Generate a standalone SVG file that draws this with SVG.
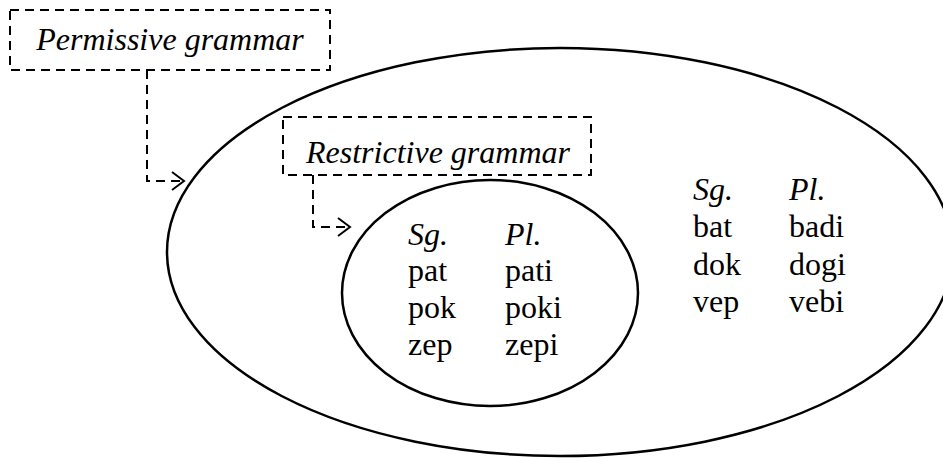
<svg xmlns="http://www.w3.org/2000/svg" width="943" height="458" viewBox="0 0 943 458">
<style>
.box{fill:none;stroke:#000;stroke-width:2;stroke-dasharray:9,6}
.ell{fill:none;stroke:#000;stroke-width:2.5}
.con{fill:none;stroke:#000;stroke-width:2;stroke-dasharray:9,6}
.ah{fill:none;stroke:#000;stroke-width:2}
</style>
<rect width="943" height="458" fill="#fff"/>
<g id="outer">
<ellipse class="ell" cx="560" cy="252" rx="393" ry="204"/>
<text x="693" y="200" style="font-family:'Liberation Serif',serif;font-size:32px;font-style:italic">Sg.</text>
<text x="789" y="200" style="font-family:'Liberation Serif',serif;font-size:32px;font-style:italic">Pl.</text>
<text x="693" y="237" style="font-family:'Liberation Serif',serif;font-size:32px">bat</text>
<text x="789" y="237" style="font-family:'Liberation Serif',serif;font-size:32px">badi</text>
<text x="693" y="275" style="font-family:'Liberation Serif',serif;font-size:32px">dok</text>
<text x="789" y="275" style="font-family:'Liberation Serif',serif;font-size:32px">dogi</text>
<text x="693" y="312" style="font-family:'Liberation Serif',serif;font-size:32px">vep</text>
<text x="789" y="312" style="font-family:'Liberation Serif',serif;font-size:32px">vebi</text>
</g>
<g id="inner">
<ellipse class="ell" cx="490" cy="293" rx="148" ry="113"/>
<text x="408" y="245" style="font-family:'Liberation Serif',serif;font-size:32px;font-style:italic">Sg.</text>
<text x="505" y="245" style="font-family:'Liberation Serif',serif;font-size:32px;font-style:italic">Pl.</text>
<text x="408" y="281" style="font-family:'Liberation Serif',serif;font-size:32px">pat</text>
<text x="505" y="281" style="font-family:'Liberation Serif',serif;font-size:32px">pati</text>
<text x="408" y="318" style="font-family:'Liberation Serif',serif;font-size:32px">pok</text>
<text x="505" y="318" style="font-family:'Liberation Serif',serif;font-size:32px">poki</text>
<text x="408" y="355" style="font-family:'Liberation Serif',serif;font-size:32px">zep</text>
<text x="505" y="355" style="font-family:'Liberation Serif',serif;font-size:32px">zepi</text>
</g>
<g id="permissive">
<rect class="box" x="10" y="10" width="320" height="60"/>
<text x="170" y="50" text-anchor="middle" style="font-family:'Liberation Serif',serif;font-size:32px;font-style:italic">Permissive grammar</text>
</g>
<g id="restrictive">
<rect class="box" x="283" y="117" width="308" height="58"/>
<text x="438" y="163" text-anchor="middle" style="font-family:'Liberation Serif',serif;font-size:32px;font-style:italic">Restrictive grammar</text>
</g>
<g id="connectors">
<path class="con" d="M147,70 V181 H182"/>
<path class="ah" d="M172,172 L184,181 L172,190"/>
<path class="con" d="M313,175 V227 H348"/>
<path class="ah" d="M338,218 L350,227 L338,236"/>
</g>
</svg>
